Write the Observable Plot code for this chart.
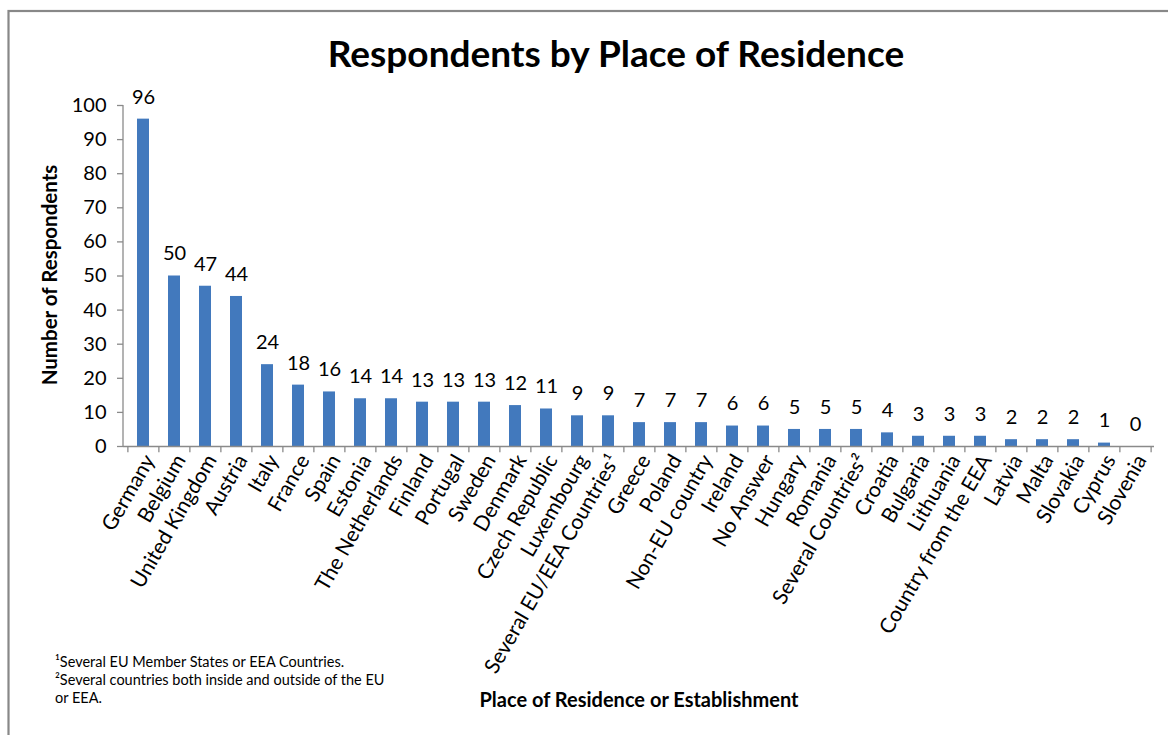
<!DOCTYPE html>
<html>
<head>
<meta charset="utf-8">
<script src="https://cdn.jsdelivr.net/npm/d3@7"></script>
<script src="https://cdn.jsdelivr.net/npm/@observablehq/plot@0.6"></script>
<style>
  html, body { margin: 0; padding: 0; background: #fff; }
  #chart { position: relative; width: 1168px; height: 735px; overflow: hidden; }
</style>
</head>
<body>
<div id="chart"></div>
<script>
const categories = ["Germany","Belgium","United Kingdom","Austria","Italy","France","Spain","Estonia","The Netherlands","Finland","Portugal","Sweden","Denmark","Czech Republic","Luxembourg","Several EU/EEA Countries\u00B9","Greece","Poland","Non-EU country","Ireland","No Answer","Hungary","Romania","Several Countries\u00B2","Croatia","Bulgaria","Lithuania","Country from the EEA","Latvia","Malta","Slovakia","Cyprus","Slovenia"];
const values = [96,50,47,44,24,18,16,14,14,13,13,13,12,11,9,9,7,7,7,6,6,5,5,5,4,3,3,3,2,2,2,1,0];
const yTicks = [0,10,20,30,40,50,60,70,80,90,100];
const title = "Respondents by Place of Residence";
const yLabel = "Number of Respondents";
const xLabel = "Place of Residence or Establishment";
const footnotes = ["\u00B9Several EU Member States or EEA Countries.", "\u00B2Several countries both inside and outside of the EU", "or EEA."];

const data = categories.map((c, i) => ({category: c, value: values[i]}));

const W = 1168, H = 735;
const mL = 123, mR = 14, mT = 105, mB = 289;
const step = (W - mL - mR) / categories.length;
const font = "Lato, 'Open Sans', sans-serif";
const axisGray = "#8a8a8a";

const plot = Plot.plot({
  width: W,
  height: H,
  marginLeft: mL,
  marginRight: mR,
  marginTop: mT,
  marginBottom: mB,
  style: {fontFamily: font, fontSize: "20px", color: "#000", background: "transparent", overflow: "visible"},
  x: {domain: categories, paddingInner: 0.62, paddingOuter: 0.31, label: null},
  y: {domain: [0, 100], label: null},
  marks: [
    Plot.barY(data, {x: "category", y: "value", fill: "#4279BD"}),
    Plot.text(data, {x: "category", y: "value", text: d => String(d.value), dy: -22, fontSize: 20, fill: "#000"}),
    // x baseline
    Plot.ruleY([0], {stroke: axisGray, strokeWidth: 1.3}),
    // x category boundary ticks
    Plot.ruleX(categories, {y1: 0, y2: -1.8, dx: -step / 2, stroke: axisGray, strokeWidth: 1.3}),
    Plot.ruleX([categories[categories.length - 1]], {y1: 0, y2: -1.8, dx: step / 2, stroke: axisGray, strokeWidth: 1.3}),
    Plot.axisY({ticks: yTicks, tickSize: 6, tickPadding: 11, stroke: axisGray, strokeWidth: 1.3, fontSize: 20, fill: "#000", label: null}),
    Plot.axisX({tickSize: 0, tickRotate: -60, tickPadding: 10, fontSize: 21, fill: "#000", label: null, dx: 6})
  ]
});

document.getElementById("chart").appendChild(plot);

const svg = d3.select(plot);
const ys = plot.scale("y");

// y axis line
svg.append("line")
  .attr("x1", mL).attr("x2", mL)
  .attr("y1", ys.apply(0)).attr("y2", ys.apply(100))
  .attr("stroke", axisGray).attr("stroke-width", 1.3);

// border (chart area frame)
svg.insert("rect", ":first-child")
  .attr("x", 8.5).attr("y", 11).attr("width", W + 20).attr("height", H + 20)
  .attr("fill", "none").attr("stroke", "#888").attr("stroke-width", 2.2);

svg.append("text")
  .attr("x", 616).attr("y", 67)
  .attr("text-anchor", "middle")
  .attr("font-family", font).attr("font-weight", "bold").attr("font-size", 37)
  .attr("fill", "#000")
  .text(title);

svg.append("text")
  .attr("transform", `translate(57,275) rotate(-90)`)
  .attr("text-anchor", "middle")
  .attr("font-family", font).attr("font-weight", "bold").attr("font-size", 20.5)
  .attr("fill", "#000")
  .text(yLabel);

svg.append("text")
  .attr("x", 639).attr("y", 707)
  .attr("text-anchor", "middle")
  .attr("font-family", font).attr("font-weight", "bold").attr("font-size", 20)
  .attr("fill", "#000")
  .text(xLabel);

footnotes.forEach((t, i) => {
  svg.append("text")
    .attr("x", 55).attr("y", 667 + i * 18)
    .attr("text-anchor", "start")
    .attr("font-family", font).attr("font-size", 14.5)
    .attr("fill", "#000")
    .text(t);
});
</script>
</body>
</html>
